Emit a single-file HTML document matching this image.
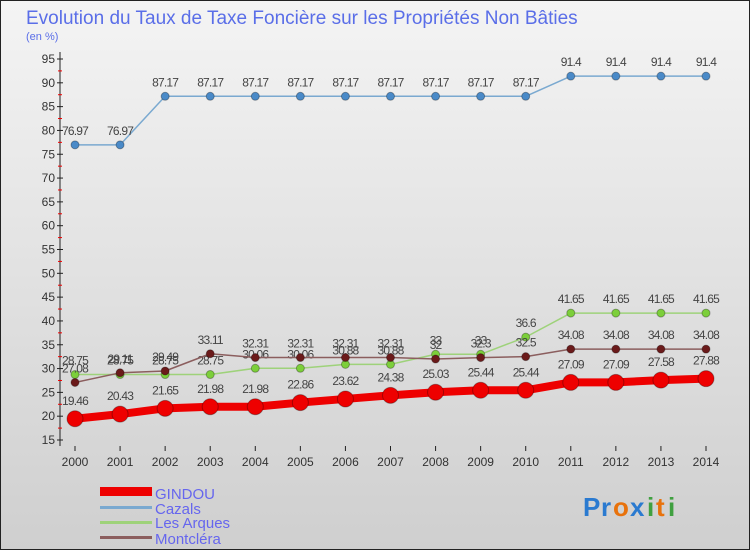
<!DOCTYPE html>
<html><head><meta charset="utf-8"><style>
body{margin:0;width:750px;height:550px;overflow:hidden;font-family:"Liberation Sans","DejaVu Sans",sans-serif}
svg text{font-family:"Liberation Sans","DejaVu Sans",sans-serif}
</style></head><body>
<svg id="chart" width="750" height="550" xmlns="http://www.w3.org/2000/svg">
<defs><linearGradient id="bg" x1="0" y1="0" x2="0" y2="1"><stop offset="0" stop-color="#f4f4f4"/><stop offset="1" stop-color="#cfcfcf"/></linearGradient></defs>
<rect x="0.5" y="0.5" width="749" height="549" fill="url(#bg)" stroke="#222"/>
<text x="26" y="24" font-size="19" fill="#5a6ee8">Evolution du Taux de Taxe Foncière sur les Propriétés Non Bâties</text>
<text x="26" y="40" font-size="11" fill="#5a6ee8">(en %)</text>
<g id="axes"></g><g id="series"></g>
<g>
<rect x="100" y="487" width="52" height="9" fill="#ee0000"/>
<text x="155" y="499" font-size="15" fill="#6666ee">GINDOU</text>
<rect x="100" y="506" width="52" height="3" fill="#7aa9d0"/>
<text x="155" y="514" font-size="15" fill="#6666ee">Cazals</text>
<rect x="100" y="521" width="52" height="3" fill="#9ed27a"/>
<text x="155" y="528" font-size="15" fill="#6666ee">Les Arques</text>
<rect x="100" y="536" width="52" height="3" fill="#8b5e5e"/>
<text x="155" y="544" font-size="15" fill="#6666ee">Montcléra</text>
</g>
<g font-size="26" font-weight="bold">
<text x="583" y="516" fill="#2a7ad0">P</text><text x="601" y="516" fill="#2a7ad0">r</text><text x="613" y="516" fill="#e8720c">o</text><text x="630" y="516" fill="#2a7ad0">x</text><text x="647" y="516" fill="#40a040">i</text><text x="656" y="516" fill="#e8720c">t</text><text x="668" y="516" fill="#40a040">i</text>
</g>
</svg>
<script>
const years=[2000,2001,2002,2003,2004,2005,2006,2007,2008,2009,2010,2011,2012,2013,2014];
const gindou=[19.46,20.43,21.65,21.98,21.98,22.86,23.62,24.38,25.03,25.44,25.44,27.09,27.09,27.58,27.88];
const cazals=[76.97,76.97,87.17,87.17,87.17,87.17,87.17,87.17,87.17,87.17,87.17,91.4,91.4,91.4,91.4];
const lesArques=[28.75,28.75,28.75,28.75,30.06,30.06,30.88,30.88,33,33,36.6,41.65,41.65,41.65,41.65];
const montclera=[27.08,29.11,29.49,33.11,32.31,32.31,32.31,32.31,32,32.3,32.5,34.08,34.08,34.08,34.08];
const yTicks=[15,20,25,30,35,40,45,50,55,60,65,70,75,80,85,90,95];
const NS="http://www.w3.org/2000/svg";
const X=i=>75+i*(706-75)/(years.length-1);
const Y=v=>440-(v-15)*(440-59)/80;
function mk(t,a,p){const e=document.createElementNS(NS,t);for(const k in a)e.setAttribute(k,a[k]);p.appendChild(e);return e;}
const ax=document.getElementById('axes');
const axl=mk('line',{x1:60,y1:52,x2:60,y2:446,stroke:'#222'},ax);


yTicks.forEach((v,k)=>{
 mk('line',{x1:57,x2:63,y1:Y(v),y2:Y(v),stroke:'#222'},ax);
 if(k<yTicks.length-1) mk('line',{x1:58,x2:62,y1:Y(v+2.5),y2:Y(v+2.5),stroke:'#e00'},ax);
 const t=mk('text',{x:55,y:Y(v)+4,'font-size':12,'text-anchor':'end',fill:'#333'},ax);t.textContent=v;
 
 
});
years.forEach((y,i)=>{
 mk('line',{x1:X(i),x2:X(i),y1:446,y2:451,stroke:'#222'},ax);
 const t=mk('text',{x:X(i),y:466,'font-size':12,'text-anchor':'middle',fill:'#333'},ax);t.textContent=y;
 
 
});
const sg=document.getElementById('series');
function series(name,data,color,lw,r,dot){
 const g=mk('g',{},sg);
 
 
 mk('polyline',{points:data.map((v,i)=>X(i)+','+Y(v)).join(' '),fill:'none',stroke:color,'stroke-width':lw,'stroke-linejoin':'round'},g);
 data.forEach((v,i)=>{
  const c=mk('circle',{cx:X(i),cy:Y(v),r:r,fill:dot,stroke:'rgba(0,0,0,0.3)','stroke-width':1},g);
  
  
  const t=mk('text',{x:X(i),y:Y(v)-r-6,'font-size':12,'text-anchor':'middle',fill:'#444','letter-spacing':'-0.8'},g);t.textContent=v;
 });
}
series('cazals',cazals,'#7aa9d0',1.5,4,'#4a8ac8');
series('les-arques',lesArques,'#9ed27a',1.5,4,'#7ccf3a');
series('montclera',montclera,'#8b5e5e',1.5,4,'#6b1a1a');
series('gindou',gindou,'#ee0000',8,8,'#ee0000');
</script>
</body></html>
